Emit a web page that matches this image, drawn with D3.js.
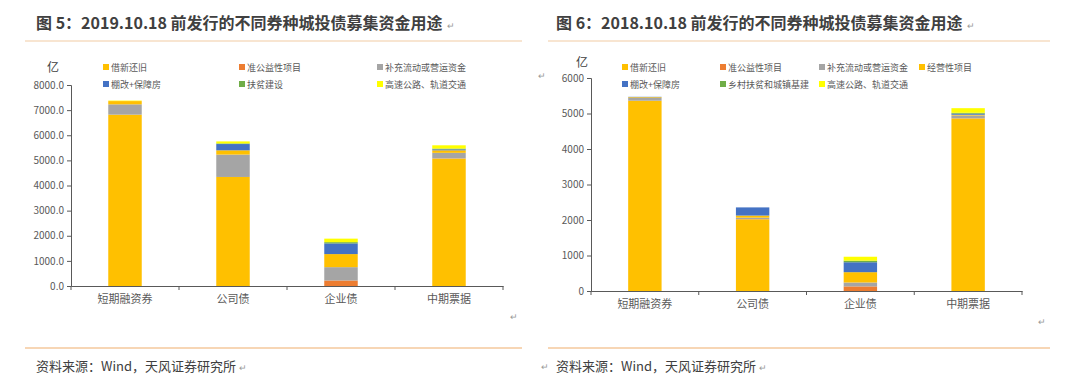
<!DOCTYPE html>
<html>
<head>
<meta charset="utf-8">
<script src="https://cdn.jsdelivr.net/npm/d3@7"></script>
<style>
  body { margin: 0; background: #fff; }
  svg text { font-family: "Noto Sans CJK SC", "Noto Sans", sans-serif; }
</style>
</head>
<body>
<svg id="chart" width="1080" height="385"></svg>
<script>
// data
const categories = ["短期融资券", "公司债", "企业债", "中期票据"];

const leftSeries = ["借新还旧", "准公益性项目", "补充流动或营运资金", "经营性项目", "棚改+保障房", "扶贫建设", "高速公路、轨道交通"];
const leftLegend = ["借新还旧", "准公益性项目", "补充流动或营运资金", "棚改+保障房", "扶贫建设", "高速公路、轨道交通"];
const leftValues = [
    [6820, 4340, 0, 5070],   // 借新还旧
    [0, 0, 220, 10],         // 准公益性项目
    [410, 890, 530, 220],    // 补充流动或营运资金
    [130, 170, 520, 100],    // 经营性项目
    [0, 250, 425, 40],       // 棚改+保障房
    [0, 25, 50, 30],         // 扶贫建设
    [20, 80, 140, 130]       // 高速公路、轨道交通
];
const leftTicks = [0, 1000, 2000, 3000, 4000, 5000, 6000, 7000, 8000];

const rightSeries = ["借新还旧", "准公益性项目", "补充流动或营运资金", "经营性项目", "棚改+保障房", "乡村扶贫和城镇基建", "高速公路、轨道交通"];
const rightLegend = rightSeries;
const rightValues = [
    [5360, 2020, 0, 4860],
    [0, 5, 130, 5],
    [80, 40, 110, 80],
    [20, 60, 290, 20],
    [10, 230, 280, 30],
    [0, 0, 45, 25],
    [0, 0, 110, 130]
];
const rightTicks = [0, 1000, 2000, 3000, 4000, 5000, 6000];

const colors = ["#FFC000", "#ED7D31", "#A5A5A5", "#FFC000", "#4472C4", "#70AD47", "#FFFF00"];

const svg = d3.select("#chart");
const textCol = "#595959";

function panel(cfg) {
    const g = svg.append("g");

    // title + rules
    const title = g.append("text")
        .attr("x", cfg.titleX).attr("y", 29)
        .attr("font-size", 16).attr("font-weight", 600)
        .attr("fill", "#404040");
    title.append("tspan").text(cfg.title);
    title.append("tspan").attr("font-size", 9).attr("font-weight", 400)
        .attr("fill", "#999").attr("dx", 4).text("↵");
    g.append("line")
        .attr("x1", cfg.ruleX0).attr("x2", cfg.ruleX1)
        .attr("y1", 41).attr("y2", 41)
        .attr("stroke", "#f6dcc2").attr("stroke-width", 1.5);
    g.append("line")
        .attr("x1", cfg.ruleX0).attr("x2", cfg.ruleX1)
        .attr("y1", 348).attr("y2", 348)
        .attr("stroke", "#f4c89d").attr("stroke-width", 1.5);
    const src = g.append("text")
        .attr("x", cfg.titleX).attr("y", 371)
        .attr("font-size", 13).attr("fill", "#404040");
    src.append("tspan").text("资料来源：Wind，天风证券研究所");
    src.append("tspan").attr("font-size", 9).attr("fill", "#999").attr("dx", 3).text("↵");

    const x = d3.scaleBand().domain(categories).range([cfg.x0, cfg.x1]);
    const y = d3.scaleLinear().domain([0, cfg.yMax]).range([cfg.y0, cfg.y1]);

    const stackData = categories.map((c, i) => {
        const row = {cat: c};
        cfg.series.forEach((s, k) => row[s] = cfg.values[k][i]);
        return row;
    });
    const stacked = d3.stack().keys(cfg.series)(stackData);

    const barW = x.bandwidth() * 0.31;
    const bars = g.append("g");
    stacked.forEach((layer, k) => {
        bars.selectAll(null)
            .data(layer)
            .join("rect")
            .attr("x", d => x(d.data.cat) + (x.bandwidth() - barW) / 2)
            .attr("width", barW)
            .attr("y", d => y(d[1]))
            .attr("height", d => Math.max(0, y(d[0]) - y(d[1])))
            .attr("fill", colors[k]);
    });

    // y axis
    const yAxis = d3.axisLeft(y).tickValues(cfg.ticks).tickSize(4).tickFormat(d3.format(cfg.fmt));
    const yG = g.append("g").attr("transform", `translate(${cfg.x0},0)`).call(yAxis);
    yG.select(".domain").attr("stroke", "#595959");
    yG.selectAll(".tick line").attr("stroke", "#595959");
    yG.selectAll(".tick text").attr("fill", textCol).attr("font-size", 10)
        .attr("font-family", "Liberation Sans, Arial, sans-serif");

    // x axis
    const xAxis = d3.axisBottom(x).tickSize(0).tickPadding(9);
    const xG = g.append("g").attr("transform", `translate(0,${cfg.y0})`).call(xAxis);
    xG.select(".domain").attr("stroke", "#595959");
    xG.selectAll(".tick text").attr("fill", textCol).attr("font-size", 11);
    const bounds = categories.map(c => x(c)).concat([x(categories[categories.length - 1]) + x.bandwidth()]);
    xG.selectAll(".bnd").data(bounds).join("line")
        .attr("x1", d => d).attr("x2", d => d)
        .attr("y1", 0).attr("y2", 4)
        .attr("stroke", "#595959");

    // unit label
    g.append("text")
        .attr("x", cfg.unitX).attr("y", cfg.unitY)
        .attr("font-size", 12).attr("fill", "#404040")
        .text("亿");

    // legend
    const lg = g.append("g");
    cfg.legend.forEach((name, i) => {
        const col = i % cfg.legendCols.length;
        const row = Math.floor(i / cfg.legendCols.length);
        const lx = cfg.legendCols[col];
        const ly = 67 + row * 17;
        const k = cfg.series.indexOf(name);
        lg.append("rect")
            .attr("x", lx - 3).attr("y", ly - 3)
            .attr("width", 6).attr("height", 6)
            .attr("fill", colors[k]);
        lg.append("text")
            .attr("x", lx + 5).attr("y", ly + 4)
            .attr("font-size", 9).attr("fill", textCol)
            .text(name);
    });

    // paragraph marks
    cfg.marks.forEach(m => {
        g.append("text").attr("x", m[0]).attr("y", m[1])
            .attr("font-size", 9).attr("fill", "#999").text("↵");
    });
}

panel({
    title: "图 5：2019.10.18 前发行的不同券种城投债募集资金用途",
    titleX: 36, ruleX0: 25, ruleX1: 522,
    x0: 71, x1: 503, y0: 286, y1: 85, yMax: 8000,
    ticks: leftTicks, fmt: ".1f",
    series: leftSeries, values: leftValues, legend: leftLegend,
    legendCols: [106, 242, 380],
    unitX: 47, unitY: 72, marks: [[510, 320]]
});

panel({
    title: "图 6：2018.10.18 前发行的不同券种城投债募集资金用途",
    titleX: 556, ruleX0: 548, ruleX1: 1050,
    x0: 591, x1: 1022, y0: 291, y1: 78, yMax: 6000,
    ticks: rightTicks, fmt: "d",
    series: rightSeries, values: rightValues, legend: rightLegend,
    legendCols: [625, 723, 822, 922],
    unitX: 576, unitY: 67, marks: [[1038, 325], [538, 79], [541, 370]]
});
</script>
</body>
</html>
